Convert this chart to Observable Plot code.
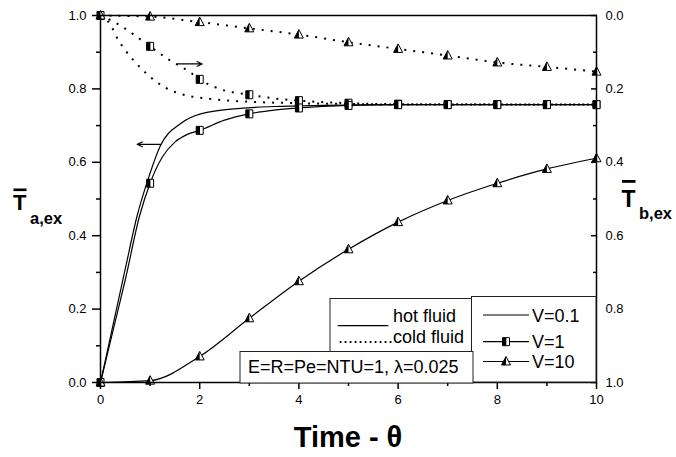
<!DOCTYPE html>
<html><head><meta charset="utf-8">
<script src="https://cdn.jsdelivr.net/npm/d3@7"></script>
<script src="https://cdn.jsdelivr.net/npm/@observablehq/plot@0.6"></script>
<style>
body{margin:0;background:#fff;}
#chart svg text{font-family:"Liberation Sans",Arial,sans-serif;}
</style></head><body><div id="chart"></div>
<script>
// ---- tick values ----
const xTicks = [0, 2, 4, 6, 8, 10];
const xMinor = [1, 3, 5, 7, 9];
const yTicks = [0, 0.2, 0.4, 0.6, 0.8, 1.0];
const yMinor = [0.1, 0.3, 0.5, 0.7, 0.9];
// right axis shows cold-fluid temperature, reversed (0.0 at top, 1.0 at bottom)

// ---- hot fluid (left axis) ----
const hotV01X = [0, 0.25, 0.5, 0.74, 0.94, 1.21, 1.61, 2.02, 2.82, 3.5, 4.5, 6, 10];
const hotV01Y = [0, 0.155, 0.31, 0.455, 0.546, 0.646, 0.705, 0.732, 0.747, 0.752, 0.755, 0.757, 0.757];
const hotV1LineX = [0, 0.25, 0.5, 0.79, 1, 1.25, 1.5, 1.75, 2, 2.5, 3, 3.5, 4, 5, 6, 7, 8, 9, 10];
const hotV1LineY = [0, 0.14, 0.28, 0.455, 0.543, 0.615, 0.655, 0.676, 0.687, 0.715, 0.732, 0.742, 0.748, 0.755, 0.757, 0.757, 0.757, 0.757, 0.757];
const markX = [0, 1, 2, 3, 4, 5, 6, 7, 8, 9, 10];
const hotV1Mark = [0, 0.543, 0.687, 0.732, 0.748, 0.755, 0.757, 0.757, 0.757, 0.757, 0.757];
const hotV10 = [0, 0.005, 0.071, 0.175, 0.276, 0.363, 0.437, 0.496, 0.543, 0.582, 0.611];

// ---- cold fluid (right axis, value read on reversed scale) ----
const coldV01X = [0, 0.2, 0.35, 0.5, 0.7, 0.9, 1.1, 1.3, 1.55, 1.8, 2, 2.5, 3, 4, 5, 6, 10];
const coldV01Y = [0, 0.025, 0.065, 0.095, 0.127, 0.155, 0.178, 0.196, 0.211, 0.22, 0.224, 0.231, 0.235, 0.239, 0.241, 0.2425, 0.2425];
const coldV1LineX = [0, 0.4, 0.7, 1, 1.35, 1.8, 2, 2.4, 3, 3.5, 4, 5, 6, 10];
const coldV1LineY = [0, 0.027, 0.055, 0.084, 0.118, 0.154, 0.174, 0.2, 0.216, 0.226, 0.232, 0.239, 0.2415, 0.2425];
const coldV1Mark = [0, 0.084, 0.174, 0.216, 0.232, 0.239, 0.2415, 0.2425, 0.2425, 0.2425, 0.2425];
const coldV10 = [0, 0.003, 0.018, 0.035, 0.052, 0.073, 0.091, 0.109, 0.128, 0.140, 0.153];

// ---- annotation arrows (data units) ----
const arrowX1 = [1.21, 1.55];
const arrowX2 = [0.74, 2.05];
const arrowY = [0.649, 0.868];

// ---- legend texts ----
const legendFluid = ["_____ hot fluid", "...........cold fluid"];
const legendV = ["V=0.1", "V=1", "V=10"];
const paramText = "E=R=Pe=NTU=1, \u03bb=0.025";

const zip = (xs, ys) => xs.map((x, i) => ({x, y: ys[i]}));
const cold = (xs, ys) => xs.map((x, i) => ({x, y: 1 - ys[i]}));

const hot01 = zip(hotV01X, hotV01Y);
const hot1L = zip(hotV1LineX, hotV1LineY);
const hot1M = zip(markX, hotV1Mark);
const hot10 = zip(markX, hotV10);
const cold01 = cold(coldV01X, coldV01Y);
const cold1L = cold(coldV1LineX, coldV1LineY);
const cold1M = cold(markX, coldV1Mark);
const cold10 = cold(markX, coldV10);
const arrows = arrowX1.map((x1, i) => ({x1, x2: arrowX2[i], y: arrowY[i]}));

// half-filled marker symbols
const sqOutline = {draw(c){ c.rect(-3.5, -4, 7, 8); }};
const sqHalf = {draw(c){ c.rect(-3.5, -4, 3.8, 8); }};
const triOutline = {draw(c){ c.moveTo(0,-5); c.lineTo(4.5,3.5); c.lineTo(-4.5,3.5); c.closePath(); }};
const triHalf = {draw(c){ c.moveTo(0,-5); c.lineTo(0,3.5); c.lineTo(-4.5,3.5); c.closePath(); }};

const dotted = {stroke: "black", strokeWidth: 2, strokeDasharray: "2,7", strokeLinecap: "butt", curve: "monotone-x"};
const solid = {stroke: "black", strokeWidth: 1.2, curve: "monotone-x"};
const markers = (data, outline, half) => [
  Plot.dot(data, {x: "x", y: "y", symbol: outline, fill: "white", stroke: "black", strokeWidth: 1, r: 4}),
  Plot.dot(data, {x: "x", y: "y", symbol: half, fill: "black", stroke: "none", r: 4})
];

const plot = Plot.plot({
  width: 676, height: 457,
  marginLeft: 100, marginRight: 80, marginTop: 15, marginBottom: 75,
  style: {fontSize: "13px", color: "black", background: "white"},
  x: {domain: [0, 10]},
  y: {domain: [0, 1]},
  marks: [
    Plot.line(cold01, {x: "x", y: "y", ...dotted}),
    Plot.line(cold1L, {x: "x", y: "y", ...dotted}),
    Plot.line(cold10, {x: "x", y: "y", ...dotted}),
    Plot.line(hot01, {x: "x", y: "y", ...solid}),
    Plot.line(hot1L, {x: "x", y: "y", ...solid}),
    Plot.line(hot10, {x: "x", y: "y", ...solid}),
    ...markers(cold1M, sqOutline, sqHalf),
    ...markers(cold10, triOutline, triHalf),
    ...markers(hot1M, sqOutline, sqHalf),
    ...markers(hot10, triOutline, triHalf),
    Plot.arrow(arrows, {x1: "x1", x2: "x2", y1: "y", y2: "y", stroke: "black", strokeWidth: 1.2, headLength: 7, headAngle: 50}),
    Plot.axisX(xTicks, {anchor: "bottom", tickSize: 7, tickPadding: 5, strokeWidth: 1.5, label: null, tickFormat: d => String(d)}),
    Plot.axisX(xMinor, {anchor: "bottom", tickSize: 4, strokeWidth: 1.5, text: null, label: null}),
    Plot.axisY(yTicks, {anchor: "left", tickSize: 8, tickPadding: 6, strokeWidth: 1.5, label: null, tickFormat: d => d.toFixed(1)}),
    Plot.axisY(yMinor, {anchor: "left", tickSize: 4, strokeWidth: 1.5, text: null, label: null}),
    Plot.axisY(yTicks, {anchor: "right", tickSize: 6, insetRight: 6, tickPadding: 9, strokeWidth: 1.5, label: null, tickFormat: d => (1 - d).toFixed(1)}),
    Plot.axisY(yMinor, {anchor: "right", tickSize: 4, insetRight: 4, strokeWidth: 1.5, text: null, label: null}),
    Plot.frame({stroke: "black", strokeWidth: 1.5})
  ]
});
document.getElementById("chart").append(plot);

// ---- titles and legend boxes (annotation layer) ----
const svg = d3.select(plot);
const g = svg.append("g").attr("font-family", '"Liberation Sans", Arial, sans-serif')
  .attr("fill", "black").attr("text-anchor", "start");

// axis titles
g.append("text").attr("x", 348).attr("y", 447).attr("text-anchor", "middle")
  .attr("font-size", 29).attr("font-weight", "bold").text("Time - \u03b8");
g.append("text").attr("x", 13).attr("y", 210).attr("font-size", 22).attr("font-weight", "bold").text("T");
g.append("rect").attr("x", 13.5).attr("y", 188.5).attr("width", 13).attr("height", 2.6);
g.append("text").attr("x", 30).attr("y", 223.5).attr("font-size", 16.5).attr("font-weight", "bold").text("a,ex");
g.append("text").attr("x", 621.5).attr("y", 206.5).attr("font-size", 23).attr("font-weight", "bold").text("T");
g.append("rect").attr("x", 622).attr("y", 180).attr("width", 13.5).attr("height", 2.8);
g.append("text").attr("x", 639).attr("y", 218.5).attr("font-size", 16.5).attr("font-weight", "bold").text("b,ex");

// legend boxes
const box = (x, y, w, h) => g.append("rect").attr("x", x).attr("y", y).attr("width", w).attr("height", h)
  .attr("fill", "white").attr("stroke", "#222").attr("stroke-width", 1);
box(330, 298.5, 141.5, 53);
box(471.5, 296.5, 124.5, 85.5);
box(240, 351.5, 233, 31.5);

g.append("text").attr("x", 338).attr("y", 322.3).attr("font-size", 18).text(legendFluid[0]);
g.append("text").attr("x", 338).attr("y", 343.3).attr("font-size", 18).text(legendFluid[1]);
g.append("text").attr("x", 248).attr("y", 373).attr("font-size", 18).text(paramText);

const legY = [315, 341.7, 361.5];
const legBase = [321.7, 348, 368];
const legSym = [null, [sqOutline, sqHalf], [triOutline, triHalf]];
legendV.forEach((t, i) => {
  g.append("line").attr("x1", 483).attr("x2", 529).attr("y1", legY[i]).attr("y2", legY[i])
    .attr("stroke", "black").attr("stroke-width", 1.2);
  if (legSym[i]) {
    g.append("path").attr("transform", `translate(506,${legY[i]})`).attr("d", d3.symbol(legSym[i][0])())
      .attr("fill", "white").attr("stroke", "black").attr("stroke-width", 1);
    g.append("path").attr("transform", `translate(506,${legY[i]})`).attr("d", d3.symbol(legSym[i][1])())
      .attr("fill", "black");
  }
  g.append("text").attr("x", 532).attr("y", legBase[i]).attr("font-size", 18).text(t);
});
</script></body></html>
